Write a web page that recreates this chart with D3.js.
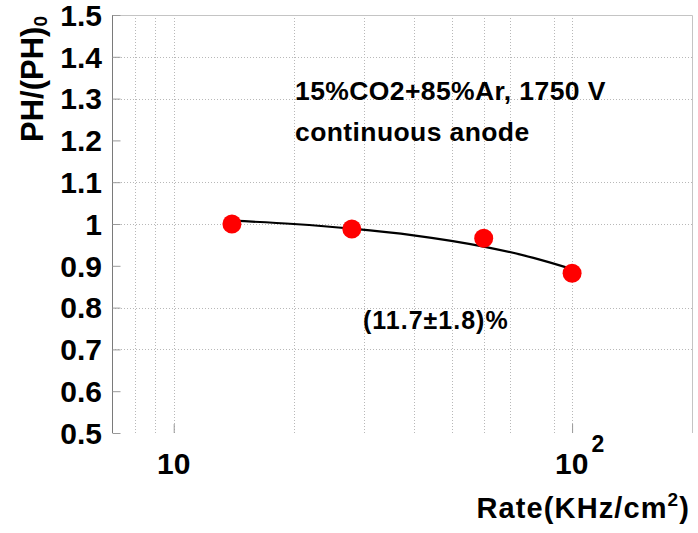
<!DOCTYPE html>
<html>
<head>
<meta charset="utf-8">
<script src="https://cdn.jsdelivr.net/npm/d3@7"></script>
<style>
  html, body { margin: 0; padding: 0; background: #fff; }
  svg text { font-family: "Liberation Sans", Arial, Helvetica, sans-serif; font-weight: bold; fill: #000; }
</style>
</head>
<body>
<svg id="chart" width="698" height="533"></svg>
<script>
// Measured pulse height, normalised to the low-rate value
const rates = [14, 28, 60, 100];          // KHz/cm^2
const pulseHeight = [1.0, 0.988, 0.966, 0.882];

// Fitted trend through the points
const fitRates = [14, 20, 28, 40, 60, 80, 100];
const fitValues = [1.008, 1.0, 0.989, 0.973, 0.946, 0.919, 0.892];

// Axis ticks
const xMajorTicks = [10, 100];
const xMinorTicks = [8, 9, 20, 30, 40, 50, 60, 70, 90];
const xGridLines = [8, 9, 10, 20, 30, 40, 50, 60, 70, 90, 100];
const yMajorTicks = [0.5, 0.6, 0.7, 0.8, 0.9, 1.0, 1.1, 1.2, 1.3, 1.4, 1.5];
const yTickLabels = ["0.5", "0.6", "0.7", "0.8", "0.9", "1", "1.1", "1.2", "1.3", "1.4", "1.5"];
const yGridLines = [0.7, 0.8, 1.0, 1.1, 1.3, 1.4];

const annotationLines = ["15%CO2+85%Ar, 1750 V", "continuous anode"];
const fitLabel = "(11.7\u00b11.8)%";

const W = 698, H = 533;
const margin = { top: 15, right: 6, bottom: 100, left: 112 };
const svg = d3.select("#chart");

const x = d3.scaleLog().domain([7, 200]).range([margin.left, W - margin.right]);
const y = d3.scaleLinear().domain([0.5, 1.5]).range([H - margin.bottom, margin.top]);

const yMinor = d3.range(0.5, 1.5001, 0.025).filter(v => Math.abs(v * 10 - Math.round(v * 10)) > 1e-6);

// Dotted grid
const grid = svg.append("g").attr("stroke", "#b8b8b8").attr("stroke-width", 1).attr("stroke-dasharray", "1,2");
grid.selectAll("line.gx").data(xGridLines).join("line")
  .attr("x1", d => Math.round(x(d)) + 0.5).attr("x2", d => Math.round(x(d)) + 0.5)
  .attr("y1", y(0.5)).attr("y2", y(1.5));
grid.selectAll("line.gy").data(yGridLines).join("line")
  .attr("y1", d => Math.round(y(d)) + 0.5).attr("y2", d => Math.round(y(d)) + 0.5)
  .attr("x1", x(7)).attr("x2", x(200));

// Frame (top and right)
svg.append("path")
  .attr("d", `M${x(7)},${Math.round(y(1.5)) + 0.5}H${Math.round(x(200)) + 0.5}V${y(0.5)}`)
  .attr("fill", "none").attr("stroke", "#c4c4c4").attr("stroke-width", 1);

// Left axis
const yAxisMajor = d3.axisRight(y).tickValues(yMajorTicks).tickSize(8).tickFormat("");
const yAxisMinor = d3.axisRight(y).tickValues(yMinor).tickSize(4).tickFormat("");
const gy = svg.append("g").attr("transform", `translate(${Math.round(x(7)) + 0.5},0)`);
gy.call(yAxisMinor);
gy.call(yAxisMajor);
gy.selectAll(".domain").attr("stroke", "#7a7a7a").attr("d", `M0,${y(1.5)}V${y(0.5)}`);
gy.selectAll(".tick line").attr("stroke", "#9a9a9a");

svg.append("g").selectAll("text").data(yMajorTicks).join("text")
  .attr("x", 102).attr("y", d => y(d)).attr("dy", "0.36em")
  .attr("text-anchor", "end").attr("font-size", 30)
  .text((d, i) => yTickLabels[i]);

// Bottom axis ticks (drawn inward)
const xAxisMajor = d3.axisTop(x).tickValues(xMajorTicks).tickSize(9).tickFormat("");
const xAxisMinor = d3.axisTop(x).tickValues(xMinorTicks).tickSize(5).tickFormat("");
const gx = svg.append("g").attr("transform", `translate(0,${y(0.5)})`);
gx.call(xAxisMinor);
gx.call(xAxisMajor);
gx.selectAll(".domain").remove();
gx.selectAll(".tick line").attr("stroke", "#9a9a9a");

// x tick labels: 10 and 10^2
svg.append("text").attr("x", x(10)).attr("y", 474).attr("text-anchor", "middle")
  .attr("font-size", 30).text("10");
const t100 = svg.append("text").attr("x", x(100) - 17).attr("y", 474).attr("font-size", 30);
t100.append("tspan").text("10");
t100.append("tspan").attr("font-size", 23).attr("dx", 3).attr("dy", -22).text("2");

// Axis titles
const xt = svg.append("text").attr("x", 690).attr("y", 518).attr("text-anchor", "end")
  .attr("font-size", 29).attr("letter-spacing", 1.1);
xt.append("tspan").text("Rate(KHz/cm");
xt.append("tspan").attr("font-size", 19).attr("dy", -12).text("2");
xt.append("tspan").attr("dy", 12).text(")");

const yt = svg.append("text").attr("transform", "translate(43,142) rotate(-90)").attr("font-size", 31);
yt.append("tspan").text("PH/(PH)");
yt.append("tspan").attr("font-size", 19).attr("dy", 4).text("0");

// Fit curve
const line = d3.line().x(d => x(d[0])).y(d => y(d[1])).curve(d3.curveMonotoneX);
svg.append("path").datum(fitRates.map((r, i) => [r, fitValues[i]]))
  .attr("d", line).attr("fill", "none").attr("stroke", "#000").attr("stroke-width", 2.2);

// Data points
svg.append("g").selectAll("circle").data(rates).join("circle")
  .attr("cx", d => x(d)).attr("cy", (d, i) => y(pulseHeight[i])).attr("r", 9.5)
  .attr("fill", "#ff0000");

// Annotations
svg.append("g").selectAll("text").data(annotationLines).join("text")
  .attr("x", 295).attr("y", (d, i) => 100 + i * 41).attr("font-size", 26.5)
  .attr("letter-spacing", 0.4)
  .text(d => d);
svg.append("text").attr("x", 363).attr("y", 329).attr("font-size", 25)
  .attr("letter-spacing", 1).text(fitLabel);
</script>
</body>
</html>
